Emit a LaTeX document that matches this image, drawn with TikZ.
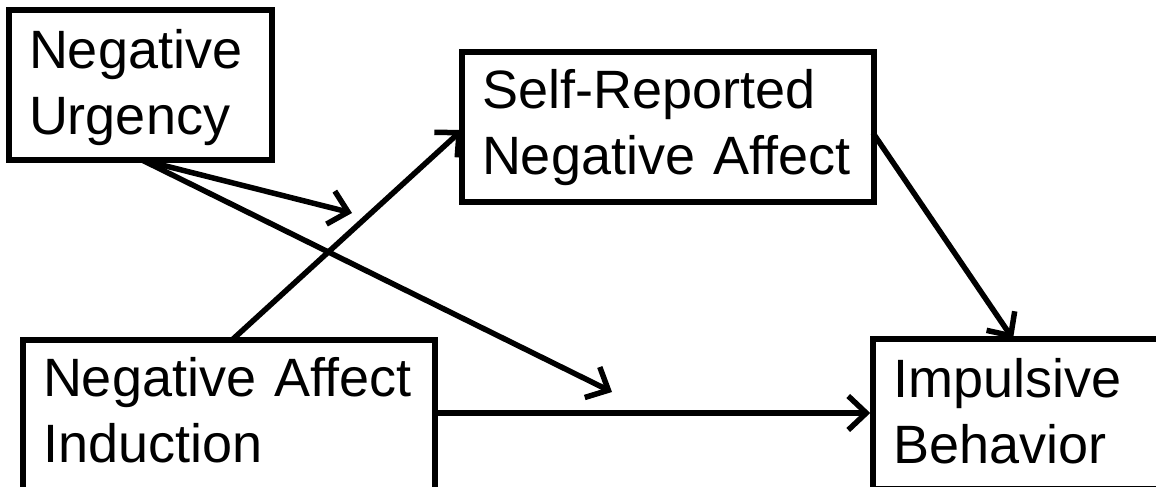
\documentclass[tikz,border=0pt]{standalone}
\usepackage{fontspec}
\setmainfont{Liberation Sans}
\usetikzlibrary{arrows.meta}
\newcommand{\myhs}[1]{\rule{0pt}{#1}}
\newcommand{\myds}{\rule[-12pt]{0pt}{0pt}}
\begin{document}
\begin{tikzpicture}[x=1pt,y=1pt,
  boxnode/.style={draw, line width=5.5pt, rectangle, inner sep=0pt, align=left,
    font=\fontsize{54}{66}\selectfont},
  conn/.style={line width=5.5pt, -{Straight Barb[length=18pt,width=34pt,line width=5.5pt]}}]
\useasboundingbox (0,0) rectangle (1156,487);
\node[boxnode, minimum width=263pt, minimum height=150pt, text width=223pt] (nu) at (140.5,402) {\myhs{46pt}Negative\\Urgency\myds};
\node[boxnode, minimum width=412pt, minimum height=150pt, text width=372pt] (sr) at (668,360) {\myhs{42pt}Self-Reported\\Negative Affect\myds};
\node[boxnode, minimum width=412pt, minimum height=150pt, text width=372pt] (na) at (229,72) {\myhs{42pt}Negative Affect\\Induction\myds};
\node[boxnode, minimum width=290pt, minimum height=150pt, text width=250pt] (ib) at (1018,73) {\myhs{46pt}Impulsive\\Behavior\myds};
\coordinate (nuo) at (142,327);
\coordinate (m1) at (352,274);
\coordinate (m2) at (612,95);
\coordinate (nao) at (232,147);
\coordinate (sri) at (462,357);
\coordinate (sro) at (873,354);
\coordinate (ibi) at (1013,148);
\draw[conn] (nuo) -- (m1);
\draw[conn] (nuo) -- (m2);
\draw[conn] (nao) -- (sri);
\draw[conn] (sro) -- (ibi);
\draw[conn] (na.east |- 0,74) -- (ib.west |- 0,74);
\end{tikzpicture}
\end{document}
